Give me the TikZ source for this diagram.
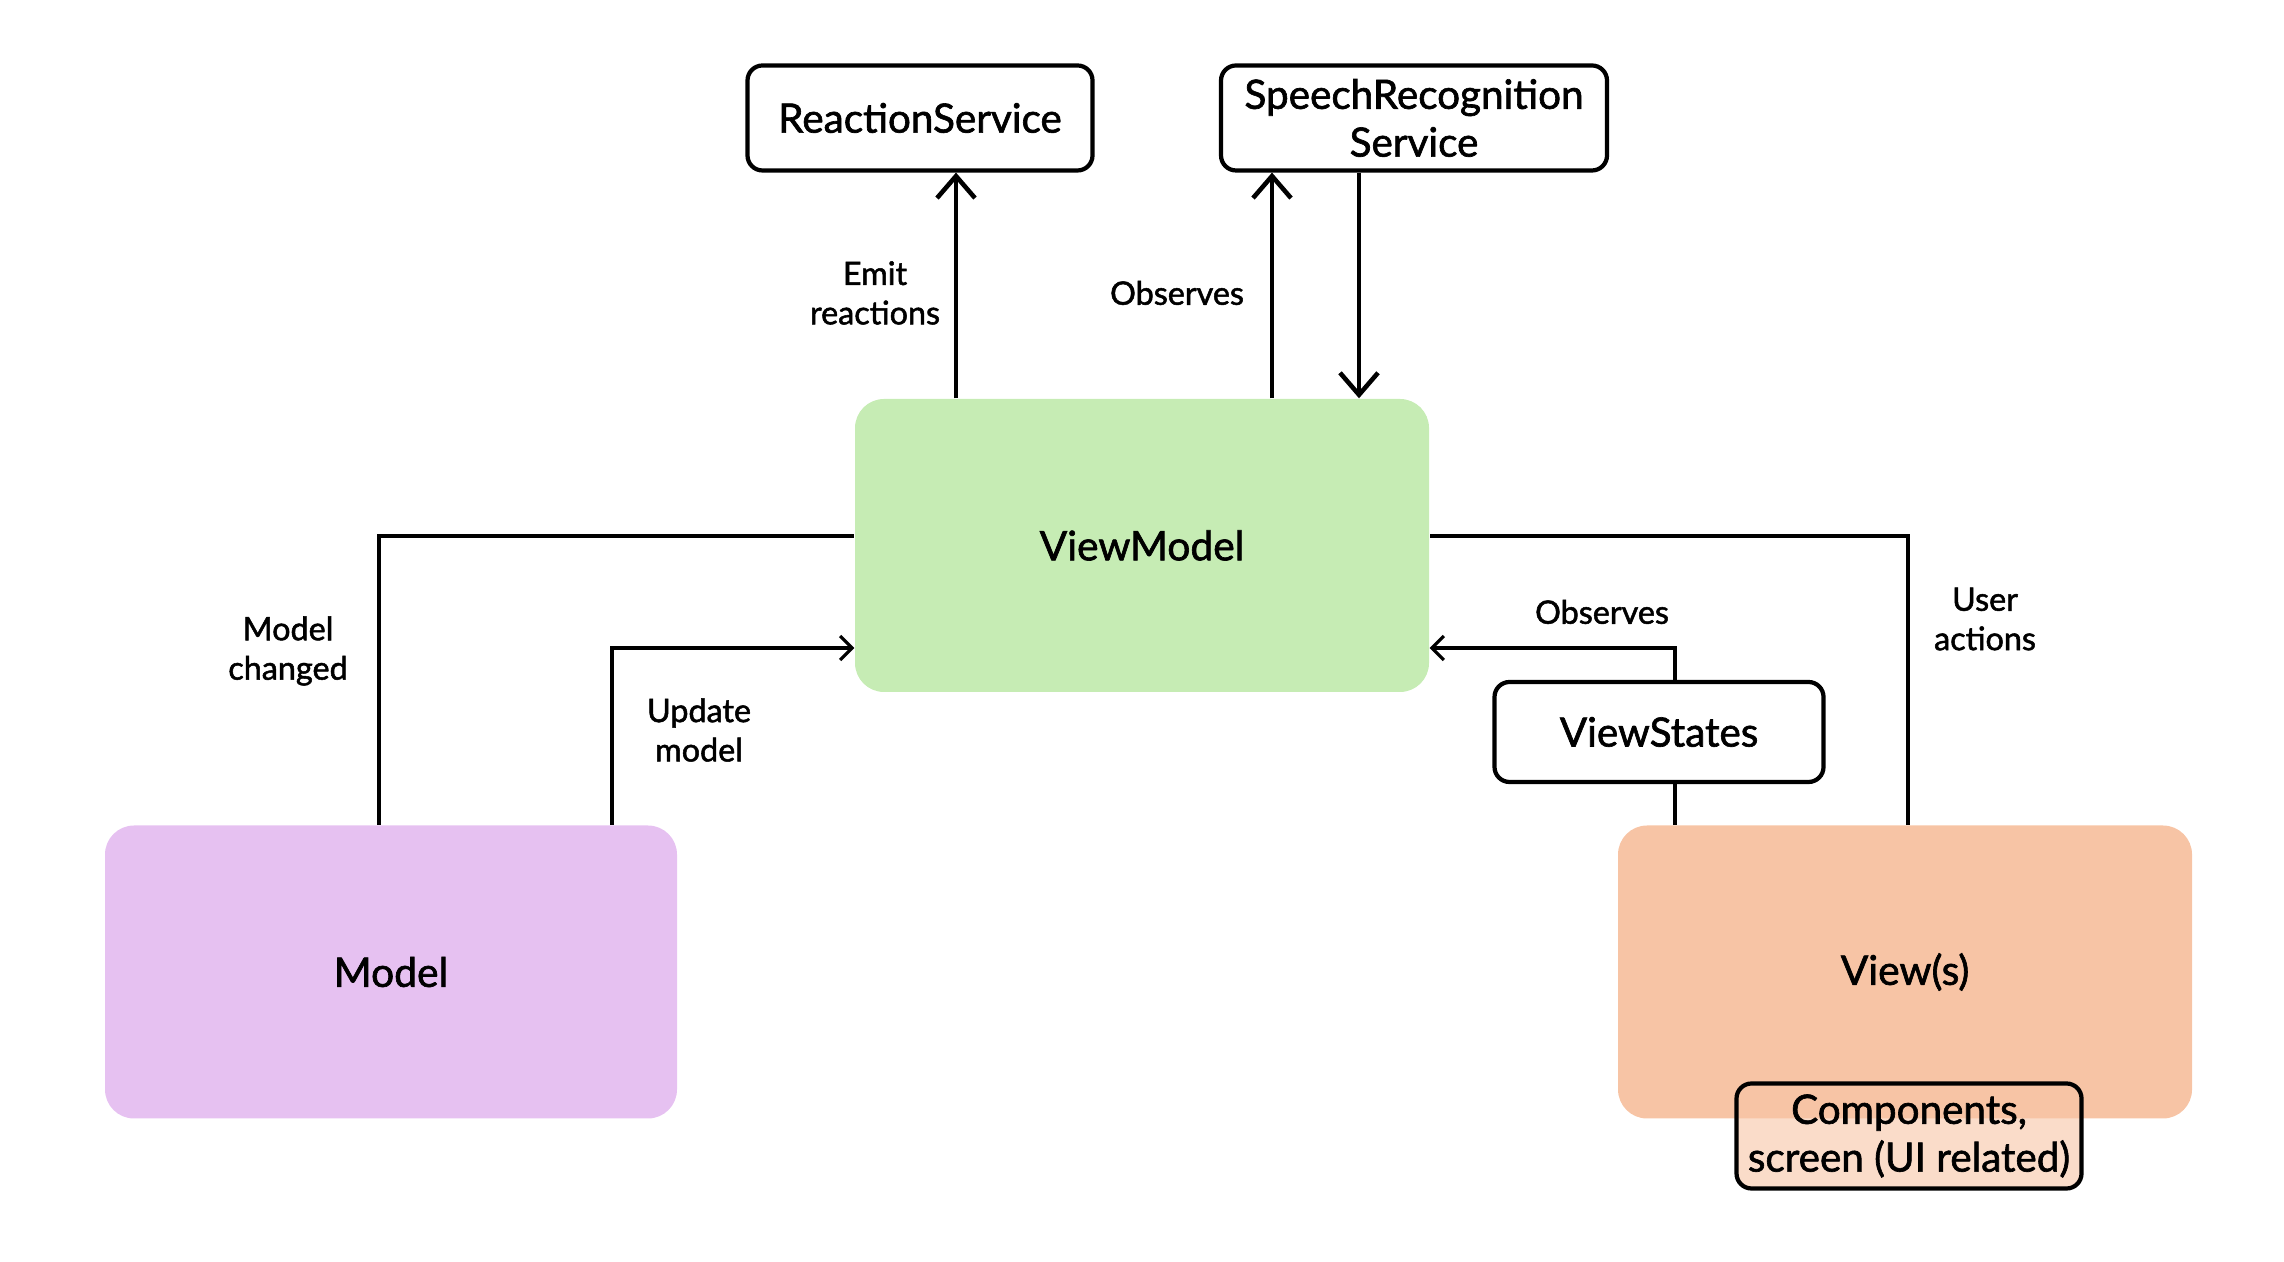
\documentclass[tikz,border=0pt]{standalone}
\usepackage{fontspec}
\setmainfont{Lato}[FakeBold=1.6]
\usetikzlibrary{arrows.meta}

\definecolor{vmcol}{HTML}{C6ECB4}
\definecolor{modelcol}{HTML}{E6C1F1}
\definecolor{viewcol}{HTML}{F7C4A5}

\tikzset{
	bigbox/.style={rounded corners=0.29cm, minimum width=5.74cm, minimum height=2.93cm, font=\fontsize{11.6}{14}\selectfont},
	svcbox/.style={draw, line width=1.2pt, rounded corners=0.15cm, align=center, font=\fontsize{11.5}{13.6}\selectfont, inner sep=0pt},
	lbl/.style={align=center, font=\fontsize{9.2}{11.2}\selectfont},
	thickarrow/.style={line width=1.3pt, -{Straight Barb[length=2.2mm,width=3.8mm]}},
	thinline/.style={line width=0.9pt},
	thinarrow/.style={line width=0.9pt, -{Straight Barb[length=1.2mm,width=2.4mm]}}
}

\begin{document}
\begin{tikzpicture}
	
	\useasboundingbox (0,0) rectangle (22.84,12.62);
	
	% main boxes
	\node[bigbox, fill=vmcol] (vm) at (11.42, 7.165) {ViewModel};
	\node[bigbox, fill=modelcol, minimum width=5.72cm] (model) at (3.91, 2.90) {Model};
	\node[bigbox, fill=viewcol] (view) at (19.05, 2.90) {View(s)};
	
	% services
	\node[svcbox, minimum width=3.45cm, minimum height=1.05cm] (rs) at (9.20, 11.44) {ReactionService};
	\node[svcbox, minimum width=3.86cm, minimum height=1.05cm] (srs) at (14.14, 11.44) {SpeechRecognition\\Service};
	\node[svcbox, minimum width=3.29cm, minimum height=1.00cm] (vs) at (16.59, 5.30) {ViewStates};
	\node[svcbox, fill=viewcol, fill opacity=0.6, text opacity=1, minimum width=3.45cm, minimum height=1.05cm] (comp) at (19.09, 1.26) {Components,\\screen (UI related)};
	
	% top arrows
	\coordinate (emit) at (9.56, 0);
	\coordinate (obsup) at (12.72, 0);
	\coordinate (obsdown) at (13.59, 0);
	\draw[thickarrow] (emit |- vm.north) -- (emit |- rs.south);
	\draw[thickarrow] (obsup |- vm.north) -- (obsup |- srs.south);
	\draw[thickarrow] (obsdown |- srs.south) -- (obsdown |- vm.north);
	
	% left side
	\coordinate (mc) at (3.79, 7.26);
	\coordinate (um) at (6.12, 6.14);
	\draw[thinline] (mc |- model.north) -- (mc) -- (mc -| vm.west);
	\draw[thinarrow] (um |- model.north) -- (um) -- (um -| vm.west);
	
	% right side
	\coordinate (ua) at (19.08, 7.26);
	\coordinate (ob) at (16.75, 6.14);
	\draw[thinline] (ua |- view.north) -- (ua) -- (ua -| vm.east);
	\draw[thinarrow] (ob |- vs.north) -- (ob) -- (ob -| vm.east);
	\draw[thinline] (ob |- vs.south) -- (ob |- view.north);
	
	% labels
	\node[lbl] (lemit) at (8.75, 9.69) {Emit\\reactions};
	\node[lbl] (lobs) at (11.77, 9.69) {Observes};
	\node[lbl] (lmc) at (2.88, 6.11) {Model\\changed};
	\node[lbl] (lum) at (6.99, 5.32) {Update\\model};
	\node[lbl] (lua) at (19.85, 6.43) {User\\actions};
	\node[lbl] (lobs2) at (16.02, 6.50) {Observes};
	
\end{tikzpicture}
\end{document}
